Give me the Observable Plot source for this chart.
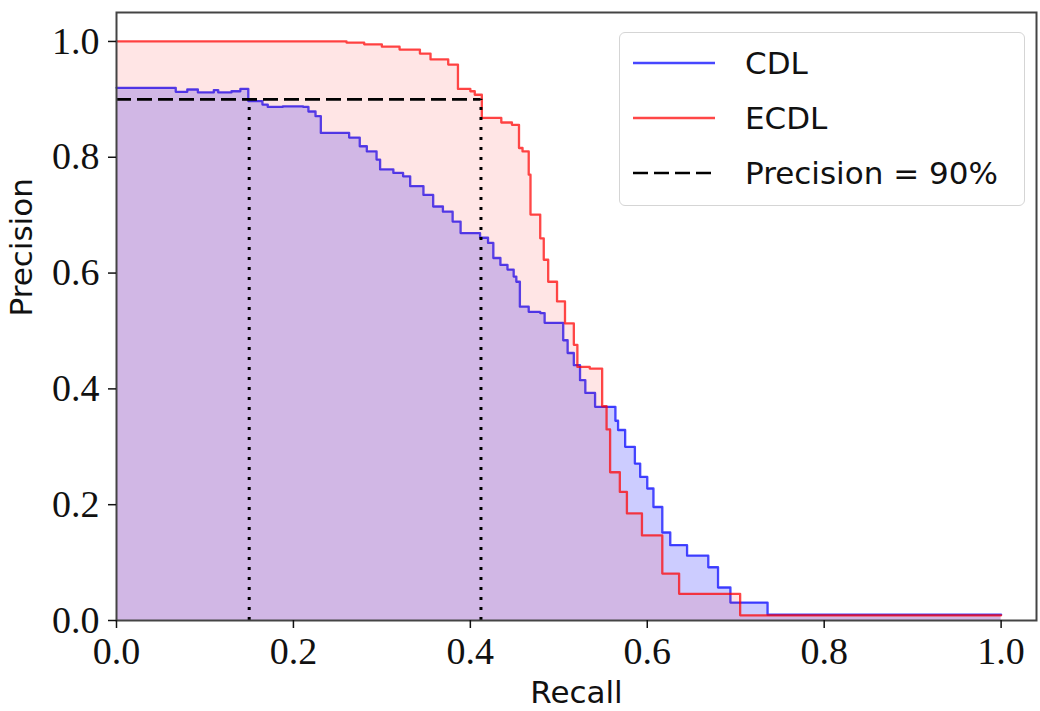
<!DOCTYPE html>
<html>
<head>
<meta charset="utf-8">
<script src="https://cdn.jsdelivr.net/npm/d3@7"></script>
<script src="https://cdn.jsdelivr.net/npm/@observablehq/plot@0.6"></script>
<style>
  body { margin: 0; background: #fff; }
  #wrap { position: relative; width: 1040px; height: 711px; }
  #legend {
    position: absolute; left: 619px; top: 32px; width: 406px; height: 174px;
    box-sizing: border-box; border: 1.5px solid #d5d5d5; border-radius: 6px;
    background: rgba(255,255,255,0.85);
    font-family: "DejaVu Sans", sans-serif; font-size: 31px; color: #111;
  }
  .row { position: absolute; left: 13px; height: 40px; display: flex; align-items: center; }
  .row svg { width: 82px; height: 10px; margin-right: 30px; }
</style>
</head>
<body>
<div id="wrap"></div>
<script>
// CDL (blue) precision–recall curve, step-after points
const cdlRecall = [0.000,0.067,0.080,0.092,0.110,0.115,0.130,0.140,0.149,0.165,0.171,0.188,0.211,0.217,0.225,0.231,0.263,0.275,0.283,0.294,0.298,0.313,0.324,0.332,0.347,0.358,0.369,0.380,0.389,0.411,0.420,0.426,0.434,0.442,0.449,0.452,0.456,0.466,0.479,0.484,0.505,0.510,0.517,0.524,0.530,0.541,0.564,0.567,0.575,0.586,0.592,0.600,0.607,0.617,0.626,0.645,0.669,0.680,0.694,0.736,1.000];
const cdlPrecision = [0.920,0.913,0.917,0.912,0.916,0.912,0.914,0.918,0.897,0.891,0.887,0.888,0.887,0.879,0.871,0.842,0.834,0.819,0.810,0.796,0.779,0.773,0.767,0.750,0.735,0.715,0.706,0.689,0.669,0.661,0.652,0.626,0.614,0.606,0.594,0.585,0.542,0.533,0.531,0.514,0.484,0.462,0.441,0.415,0.393,0.369,0.345,0.329,0.300,0.271,0.248,0.228,0.196,0.152,0.130,0.112,0.092,0.057,0.031,0.010,0.010];

// ECDL (red) precision–recall curve, step-after points
const ecdlRecall = [0.000,0.260,0.280,0.300,0.320,0.343,0.355,0.375,0.386,0.400,0.405,0.413,0.435,0.447,0.455,0.459,0.466,0.468,0.479,0.483,0.488,0.498,0.507,0.517,0.521,0.535,0.549,0.554,0.558,0.569,0.577,0.594,0.617,0.636,0.705,1.000];
const ecdlPrecision = [1.000,0.998,0.995,0.991,0.986,0.979,0.969,0.960,0.918,0.914,0.908,0.868,0.860,0.856,0.816,0.810,0.770,0.701,0.660,0.623,0.585,0.551,0.513,0.476,0.438,0.435,0.370,0.330,0.256,0.222,0.185,0.147,0.081,0.046,0.009,0.009];

// Precision = 90% threshold and recall achieved at it (CDL, ECDL)
const threshold = 0.9;
const recallAtThreshold = [0.150, 0.412];

const xTicks = [0, 0.2, 0.4, 0.6, 0.8, 1.0];
const yTicks = [0, 0.2, 0.4, 0.6, 0.8, 1.0];

const cdl = cdlRecall.map((r, i) => ({r, p: cdlPrecision[i]}));
const ecdl = ecdlRecall.map((r, i) => ({r, p: ecdlPrecision[i]}));

const serif = "'Liberation Serif', 'Times New Roman', serif";
const sans = "'DejaVu Sans', sans-serif";

const chart = Plot.plot({
  width: 1040,
  height: 711,
  marginLeft: 116,
  marginTop: 12,
  marginRight: 4,
  marginBottom: 91,
  x: {domain: [0, 1.04]},
  y: {domain: [0, 1.05]},
  style: {background: "#fff"},
  marks: [
    Plot.areaY(cdl, {x: "r", y: "p", curve: "step-after", fill: "blue", fillOpacity: 0.2}),
    Plot.line(cdl, {x: "r", y: "p", curve: "step-after", stroke: "blue", strokeOpacity: 0.72, strokeWidth: 2.3}),
    Plot.areaY(ecdl, {x: "r", y: "p", curve: "step-after", fill: "red", fillOpacity: 0.1}),
    Plot.line(ecdl, {x: "r", y: "p", curve: "step-after", stroke: "red", strokeOpacity: 0.72, strokeWidth: 2.3}),
    Plot.ruleY([threshold], {x1: 0, x2: recallAtThreshold[1], stroke: "black", strokeWidth: 2.6, strokeDasharray: "15,6"}),
    Plot.ruleX(recallAtThreshold, {y1: 0, y2: threshold, stroke: "black", strokeWidth: 3, strokeDasharray: "3,7"}),
    Plot.frame({stroke: "#444", strokeWidth: 2}),
    Plot.axisX({ticks: xTicks, tickFormat: d3.format(".1f"), tickSize: 8, tickPadding: 9, label: null,
      fontSize: 38, fontFamily: serif, color: "#111", strokeWidth: 1.5}),
    Plot.axisY({ticks: yTicks, tickFormat: d3.format(".1f"), tickSize: 8, tickPadding: 9, label: null,
      fontSize: 38, fontFamily: serif, color: "#111", strokeWidth: 1.5}),
    Plot.text(["Recall"], {frameAnchor: "bottom", dy: 82, fontSize: 31, fontFamily: sans, fill: "#111"}),
    Plot.text(["Precision"], {frameAnchor: "left", dx: -94, rotate: -90, fontSize: 31, fontFamily: sans, fill: "#111"})
  ]
});

const wrap = document.getElementById("wrap");
wrap.appendChild(chart);

const legend = document.createElement("div");
legend.id = "legend";
legend.innerHTML = `
  <div class="row" style="top:10px"><svg><line x1="0" y1="5" x2="82" y2="5" stroke="blue" stroke-opacity="0.72" stroke-width="2.6"/></svg><span>CDL</span></div>
  <div class="row" style="top:65px"><svg><line x1="0" y1="5" x2="82" y2="5" stroke="red" stroke-opacity="0.72" stroke-width="2.6"/></svg><span>ECDL</span></div>
  <div class="row" style="top:120px"><svg><line x1="0" y1="5" x2="82" y2="5" stroke="black" stroke-width="2.6" stroke-dasharray="15,6"/></svg><span>Precision = 90%</span></div>
`;
wrap.appendChild(legend);
</script>
</body>
</html>
